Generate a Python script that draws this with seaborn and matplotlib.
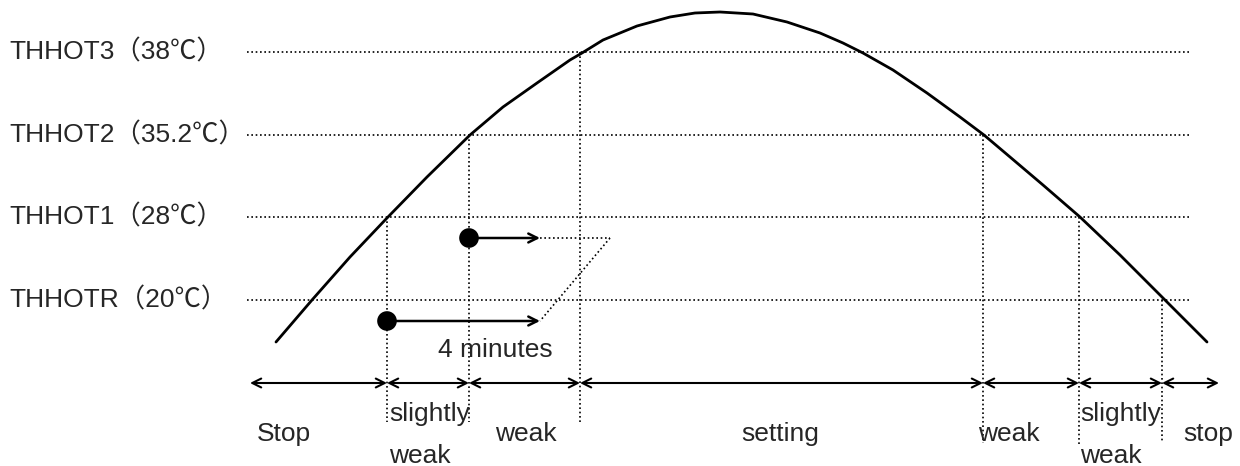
import matplotlib
matplotlib.use("Agg")
import matplotlib.pyplot as plt
import seaborn as sns
import pandas as pd

# temperature curve (pixel space of the diagram)
curve_x = [276, 312, 350, 387, 427, 470, 503, 537, 570, 582, 603, 637, 670, 695, 720,
           753, 787, 820, 843, 863, 893, 927, 960, 984, 1010, 1043, 1080, 1120, 1165, 1207]
curve_y = [342, 300, 257, 218, 177, 135, 107, 83, 60, 53, 40, 26, 17, 13, 12,
           14, 22, 33, 43, 53, 70, 93, 117, 135, 157, 185, 217, 255, 300, 342]

level_names = ["THHOT3（38℃）", "THHOT2（35.2℃）", "THHOT1（28℃）", "THHOTR（20℃）"]
level_y = [52, 135, 217, 300]

# crossing points where the mode changes
boundary_x = [387, 469, 580, 983, 1079, 1162]
boundary_top = [217, 135, 52, 135, 217, 300]
boundary_bottom = [422, 422, 422, 443, 445, 443]

# bottom mode bands
band_edges = [250, 387, 469, 580, 983, 1079, 1162, 1219]
mode_labels = ["Stop", "slightly\nweak", "weak", "setting", "weak", "slightly\nweak", "stop"]
mode_label_x = [257, 389, 495, 780, 978, 1080, 1183]
mode_label_ha = ["left", "left", "left", "center", "left", "left", "left"]

# 4 minute delay markers
delay_start_x = [387, 469]
delay_y = [321, 238]
delay_end_x = 540
delay_shift_x = 610

FONT = ["Liberation Sans", "Noto Sans CJK SC", "DejaVu Sans"]
FS = 19

sns.set_theme(style="white")
plt.rcParams["font.family"] = FONT

fig = plt.figure(figsize=(12.4, 4.66), dpi=100)
ax = fig.add_axes([0, 0, 1, 1])

dot = (0, (1, 1.6))

# threshold lines and labels
for name, y in zip(level_names, level_y):
    ax.plot([247, 1190], [y, y], color="black", lw=1.2, ls=dot)
    ax.text(9, y, name, fontsize=FS, va="center", ha="left", family=FONT)

# vertical boundaries
for x, t, b in zip(boundary_x, boundary_top, boundary_bottom):
    ax.plot([x, x], [t, b], color="black", lw=1.2, ls=dot)

# curve
df = pd.DataFrame({"x": curve_x, "y": curve_y})
sns.lineplot(data=df, x="x", y="y", ax=ax, color="black", lw=2, sort=False)

# delay markers
for x0, y in zip(delay_start_x, delay_y):
    ax.annotate("", xy=(delay_end_x, y), xytext=(x0, y),
                arrowprops=dict(arrowstyle="->", lw=1.8, color="black",
                                mutation_scale=16, shrinkA=0, shrinkB=0))
sns.scatterplot(x=delay_start_x, y=delay_y, ax=ax, color="black", s=200,
                edgecolor="none", zorder=5)
ax.plot([delay_end_x, delay_shift_x], [delay_y[1], delay_y[1]], color="black", lw=1.2, ls=dot)
ax.plot([delay_shift_x, delay_end_x], [delay_y[1], delay_y[0]], color="black", lw=1.2, ls=dot)
ax.text(438, 350, "4 minutes", fontsize=FS, va="center", ha="left", family=FONT)

# bottom arrows
for a, b in zip(band_edges[:-1], band_edges[1:]):
    ax.annotate("", xy=(b, 383), xytext=(a, 383),
                arrowprops=dict(arrowstyle="<->", lw=1.5, color="black",
                                mutation_scale=16, shrinkA=0, shrinkB=0))

for lab, x, ha in zip(mode_labels, mode_label_x, mode_label_ha):
    if "\n" in lab:
        top, bot = lab.split("\n")
        ax.text(x, 414, top, fontsize=FS, va="center", ha=ha, family=FONT)
        ax.text(x, 456, bot, fontsize=FS, va="center", ha=ha, family=FONT)
    else:
        ax.text(x, 434, lab, fontsize=FS, va="center", ha=ha, family=FONT)

ax.set_xlim(0, 1240)
ax.set_ylim(466, 0)
ax.set_axis_off()

fig.savefig("out.png", dpi=100, facecolor="white")
